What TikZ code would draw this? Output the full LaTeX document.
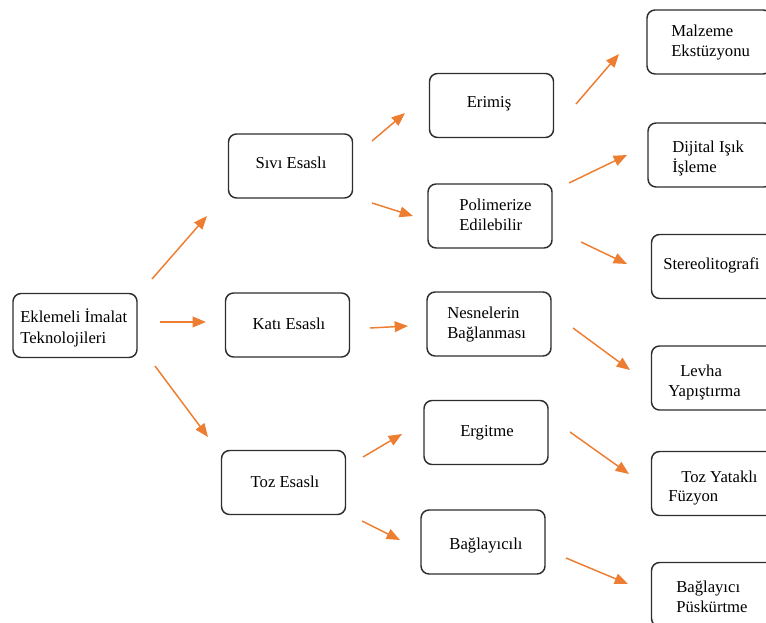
\documentclass[tikz,border=0pt]{standalone}
\usepackage{fontspec}
\setmainfont{Liberation Serif}
\usetikzlibrary{arrows.meta}
\definecolor{arr}{HTML}{ED7D31}
\definecolor{edge}{HTML}{2E2E2E}
\begin{document}
\begin{tikzpicture}[x=0.75pt,y=-0.75pt,
  box/.style={draw=edge, line width=1.1pt, rounded corners=6pt, fill=white,
              minimum width=93pt, minimum height=48pt, inner sep=0pt},
  lbl/.style={font=\fontsize{12.5pt}{15pt}\selectfont, inner sep=0pt, anchor=base west},
  clbl/.style={font=\fontsize{12.5pt}{15pt}\selectfont, inner sep=0pt, anchor=base},
  conn/.style={draw=arr, line width=1.1pt, -{Triangle[length=10pt,width=8pt]}}]
\useasboundingbox (0,0) rectangle (766,623);
\clip (0,0) rectangle (766,623);
% boxes
\node[box] (b0) at (75,325.5) {};
\node[box] (b1) at (290.5,166) {};
\node[box] (b2) at (287.5,325) {};
\node[box] (b3) at (283.5,482.5) {};
\node[box] (c1) at (491.5,105.5) {};
\node[box] (c2) at (490,216) {};
\node[box] (c3) at (489,324) {};
\node[box] (c4) at (486,432.5) {};
\node[box] (c5) at (483,542) {};
\node[box] (d1) at (709,42) {};
\node[box] (d2) at (710,155) {};
\node[box] (d3) at (713.5,266.5) {};
\node[box] (d4) at (713.5,378) {};
\node[box] (d5) at (713.5,483.5) {};
\node[box] (d6) at (713.5,594.5) {};
% texts
\node[lbl] (t0a) at (20,322) {Eklemeli İmalat};
\node[lbl] (t0b) at (20,343) {Teknolojileri};
\node[clbl] (t1) at (291,169) {Sıvı Esaslı};
\node[clbl] (t2) at (289,329) {Katı Esaslı};
\node[clbl] (t3) at (285,487) {Toz Esaslı};
\node[clbl] (t4) at (489,108) {Erimiş};
\node[lbl] (t5a) at (459,211) {Polimerize};
\node[lbl] (t5b) at (459,231) {Edilebilir};
\node[lbl] (t6a) at (447,318) {Nesnelerin};
\node[lbl] (t6b) at (447,338) {Bağlanması};
\node[clbl] (t7) at (487,436) {Ergitme};
\node[clbl] (t8) at (486,549) {Bağlayıcılı};
\node[lbl] (t9a) at (671,37) {Malzeme};
\node[lbl] (t9b) at (671,57) {Ekstüzyonu};
\node[lbl] (t10a) at (672,153) {Dijital Işık};
\node[lbl] (t10b) at (672,173) {İşleme};
\node[lbl] (t11) at (663,270) {Stereolitografi};
\node[lbl] (t12a) at (680,376) {Levha};
\node[lbl] (t12b) at (668,396) {Yapıştırma};
\node[lbl] (t13a) at (681,482) {Toz Yataklı};
\node[lbl] (t13b) at (668,501) {Füzyon};
\node[lbl] (t14a) at (676,592) {Bağlayıcı};
\node[lbl] (t14b) at (676,612) {Püskürtme};
% arrow endpoints
\coordinate (a1s) at (152,279); \coordinate (a1e) at (207,216);
\coordinate (a2s) at (160,322); \coordinate (a2e) at (206,322);
\coordinate (a3s) at (155,366); \coordinate (a3e) at (208,437);
\coordinate (a4s) at (372,141); \coordinate (a4e) at (405,113);
\coordinate (a5s) at (372,203); \coordinate (a5e) at (413,216);
\coordinate (a6s) at (370,328); \coordinate (a6e) at (408,326);
\coordinate (a7s) at (363,457); \coordinate (a7e) at (402,434);
\coordinate (a8s) at (362,521); \coordinate (a8e) at (400,540);
\coordinate (a9s) at (576,104); \coordinate (a9e) at (619,54);
\coordinate (a10s) at (569,183); \coordinate (a10e) at (627,155);
\coordinate (a11s) at (581,242); \coordinate (a11e) at (627,264);
\coordinate (a12s) at (573,328); \coordinate (a12e) at (630,370);
\coordinate (a13s) at (570,432); \coordinate (a13e) at (629,474);
\coordinate (a14s) at (566,558); \coordinate (a14e) at (628,584);
\foreach \i in {1,...,14} { \draw[conn] (a\i s) -- (a\i e); }
\end{tikzpicture}
\end{document}
